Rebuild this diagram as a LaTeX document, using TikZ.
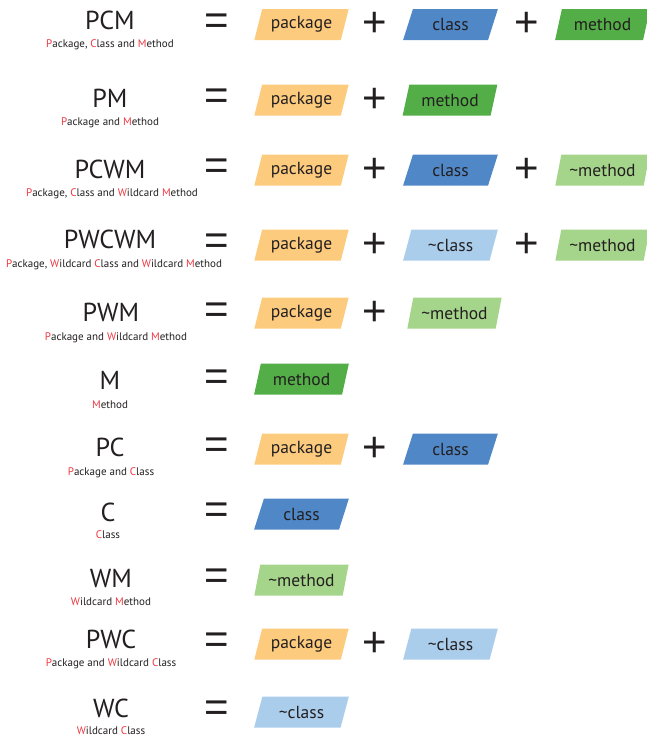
\documentclass[tikz,border=0pt]{standalone}
\usepackage{fontspec}
\setmainfont{PT Sans}
\newfontfamily\opfont{Liberation Sans}
\usetikzlibrary{shapes.geometric}

\definecolor{ink}{HTML}{231F20}
\definecolor{hired}{HTML}{EC3840}
\definecolor{pkgcol}{HTML}{FDCB7E}
\definecolor{clscol}{HTML}{5087C7}
\definecolor{mthcol}{HTML}{53AE47}
\definecolor{wclscol}{HTML}{AACDEC}
\definecolor{wmthcol}{HTML}{A5D48B}

\newcommand{\R}[1]{\textcolor{hired}{#1}}

\begin{document}
\begin{tikzpicture}[x=1pt,y=-1pt,
  every node/.style={text=ink},
  abbr/.style={anchor=base,inner sep=0pt,font=\fontsize{26}{26}\selectfont},
  expl/.style={anchor=base,inner sep=0pt,font=\fontsize{11}{11}\selectfont},
  op/.style={inner sep=0pt,font=\opfont\fontsize{42}{42}\selectfont},
  part/.style={trapezium,trapezium left angle=69,trapezium right angle=111,
    trapezium stretches=true,minimum width=95pt,minimum height=31pt,
    inner sep=0pt,font=\fontsize{17.5}{17.5}\selectfont},
  pkg/.style={part,fill=pkgcol},
  cls/.style={part,fill=clscol},
  mth/.style={part,fill=mthcol},
  wcls/.style={part,fill=wclscol},
  wmth/.style={part,fill=wmthcol}]
\useasboundingbox (0,0) rectangle (647,736);
\clip (0,0) rectangle (647,736);

% PCM
\node[abbr] (t1) at (110,29) {PCM};
\node[expl] (s1) at (110,47.5) {\R{P}ackage, \R{C}lass and \R{M}ethod};
\node[op] (eq1) at (217,24) {=};
\node[pkg] (p1) at (301.5,24.5) {package};
\node[op] (plA1) at (375,24.5) {+};
\node[cls] (c1) at (450.5,24.5) {class};
\node[op] (plB1) at (527,24.5) {+};
\node[mth] (m1) at (602.5,24.5) {method};

% PM
\node[abbr] (t2) at (110,107) {PM};
\node[expl] (s2) at (110,125.5) {\R{P}ackage and \R{M}ethod};
\node[op] (eq2) at (217,99.5) {=};
\node[pkg] (p2) at (301.5,100) {package};
\node[op] (plA2) at (375,100) {+};
\node[mth] (m2) at (450,100) {method};

% PCWM
\node[abbr] (t3) at (110,178) {PCWM};
\node[expl] (s3) at (112,196.5) {\R{P}ackage, \R{C}lass and \R{W}ildcard \R{M}ethod};
\node[op] (eq3) at (217,169.5) {=};
\node[pkg] (p3) at (301.5,170) {package};
\node[op] (plA3) at (375,170) {+};
\node[cls] (c3) at (450.5,170) {class};
\node[op] (plB3) at (527,170) {+};
\node[wmth] (m3) at (602.5,170) {\textasciitilde method};

% PWCWM
\node[abbr] (t4) at (110,248) {PWCWM};
\node[expl] (s4) at (114,267.5) {\R{P}ackage, \R{W}ildcard \R{C}lass and \R{W}ildcard \R{M}ethod};
\node[op] (eq4) at (217,244) {=};
\node[pkg] (p4) at (301.5,245) {package};
\node[op] (plA4) at (375,245) {+};
\node[wcls] (c4) at (450.5,245) {\textasciitilde class};
\node[op] (plB4) at (527,245) {+};
\node[wmth] (m4) at (602.5,245) {\textasciitilde method};

% PWM
\node[abbr] (t5) at (111,321) {PWM};
\node[expl] (s5) at (116,340) {\R{P}ackage and \R{W}ildcard \R{M}ethod};
\node[op] (eq5) at (217,313) {=};
\node[pkg] (p5) at (301.5,313) {package};
\node[op] (plA5) at (375,313) {+};
\node[wmth] (m5) at (454.5,313) {\textasciitilde method};

% M
\node[abbr] (t6) at (110,389) {M};
\node[expl] (s6) at (110,408) {\R{M}ethod};
\node[op] (eq6) at (217,380) {=};
\node[mth] (m6) at (301.5,379) {method};

% PC
\node[abbr] (t7) at (110,456) {PC};
\node[expl] (s7) at (111,475) {\R{P}ackage and \R{C}lass};
\node[op] (eq7) at (217,448) {=};
\node[pkg] (p7) at (301.5,449) {package};
\node[op] (plA7) at (375,449) {+};
\node[cls] (c7) at (450.5,449) {class};

% C
\node[abbr] (t8) at (108,521) {C};
\node[expl] (s8) at (108,538.5) {\R{C}lass};
\node[op] (eq8) at (217,513) {=};
\node[cls] (c8) at (301.5,514) {class};

% WM
\node[abbr] (t9) at (111,587) {WM};
\node[expl] (s9) at (111,605) {\R{W}ildcard \R{M}ethod};
\node[op] (eq9) at (217,579) {=};
\node[wmth] (m9) at (301.5,580) {\textasciitilde method};

% PWC
\node[abbr] (t10) at (111,648) {PWC};
\node[expl] (s10) at (111,666.5) {\R{P}ackage and \R{W}ildcard \R{C}lass};
\node[op] (eq10) at (217,643) {=};
\node[pkg] (p10) at (301.5,644) {package};
\node[op] (plA10) at (375,644) {+};
\node[wcls] (c10) at (450.5,644) {\textasciitilde class};

% WC
\node[abbr] (t11) at (111,717) {WC};
\node[expl] (s11) at (111,734) {\R{W}ildcard \R{C}lass};
\node[op] (eq11) at (217,711) {=};
\node[wcls] (c11) at (301.5,712) {\textasciitilde class};
\end{tikzpicture}
\end{document}
